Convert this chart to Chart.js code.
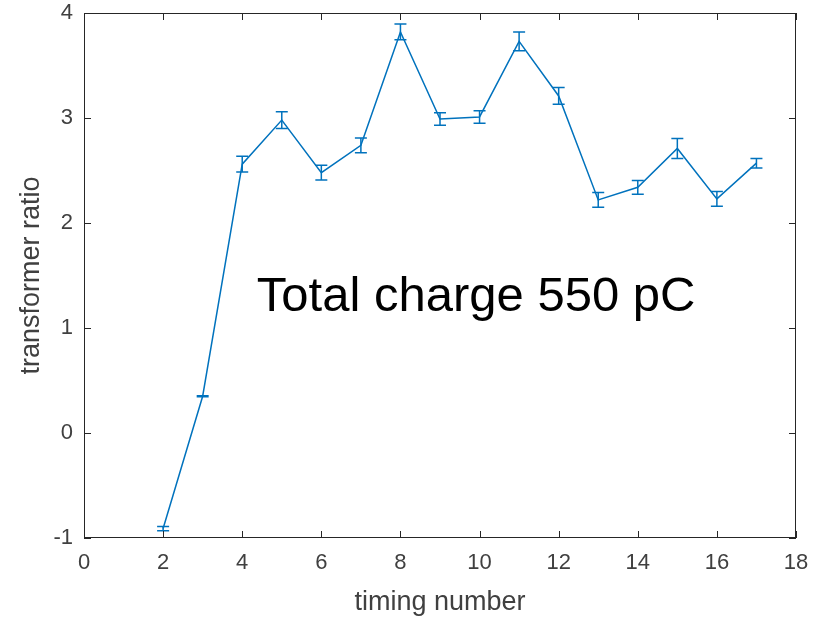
<!DOCTYPE html>
<html>
<head>
<meta charset="utf-8">
<title>transformer ratio</title>
<script src="https://cdn.jsdelivr.net/npm/chart.js@4/dist/chart.umd.min.js"></script>
<style>
  html, body { margin: 0; padding: 0; background: #fff; }
  #wrap { width: 814px; height: 619px; }
</style>
</head>
<body>
<div id="wrap"><canvas id="ratioChart"></canvas></div>
<script>
// timing scan, total charge 550 pC
const timingNumber = [2, 3, 4, 5, 6, 7, 8, 9, 10, 11, 12, 13, 14, 15, 16, 17];
const ratioMean = [-0.91, 0.35, 2.56, 2.98, 2.48, 2.74, 3.82, 2.99, 3.01, 3.73, 3.21, 2.22, 2.34, 2.71, 2.23, 2.57];
const ratioErr = [0.02, 0.005, 0.075, 0.08, 0.07, 0.07, 0.075, 0.06, 0.06, 0.09, 0.08, 0.07, 0.065, 0.095, 0.07, 0.045];
const xTicks = [0, 2, 4, 6, 8, 10, 12, 14, 16, 18];
const yTicks = [-1, 0, 1, 2, 3, 4];

const lineBlue = '#0072BD';
const axisGray = '#262626';
const textGray = '#404040';
const fontFamily = '"Liberation Sans", Arial, sans-serif';
const noteText = 'Total charge 550 pC';

// box around the axes, inward ticks on all four sides, error bars and the note
const matlabAxes = {
  id: 'matlabAxes',
  afterDatasetsDraw(chart) {
    const { ctx, chartArea: a, scales: { x, y } } = chart;
    const tl = 7;
    ctx.save();

    // error bars
    ctx.strokeStyle = lineBlue;
    ctx.lineWidth = 1.5;
    timingNumber.forEach((t, i) => {
      const px = x.getPixelForValue(t);
      const top = y.getPixelForValue(ratioMean[i] + ratioErr[i]);
      const bot = y.getPixelForValue(ratioMean[i] - ratioErr[i]);
      ctx.beginPath();
      ctx.moveTo(px, top); ctx.lineTo(px, bot);
      ctx.moveTo(px - 6, top); ctx.lineTo(px + 6, top);
      ctx.moveTo(px - 6, bot); ctx.lineTo(px + 6, bot);
      ctx.stroke();
    });

    // frame
    ctx.strokeStyle = axisGray;
    ctx.lineWidth = 1;
    ctx.strokeRect(a.left + 0.5, a.top + 0.5, a.right - a.left - 1, a.bottom - a.top - 1);

    ctx.beginPath();
    xTicks.forEach(v => {
      const px = Math.round(x.getPixelForValue(v)) + 0.5;
      ctx.moveTo(px, a.bottom); ctx.lineTo(px, a.bottom - tl);
      ctx.moveTo(px, a.top); ctx.lineTo(px, a.top + tl);
    });
    yTicks.forEach(v => {
      const py = Math.round(y.getPixelForValue(v)) + 0.5;
      ctx.moveTo(a.left, py); ctx.lineTo(a.left + tl, py);
      ctx.moveTo(a.right, py); ctx.lineTo(a.right - tl, py);
    });
    ctx.stroke();

    // note inside the axes
    ctx.fillStyle = '#000';
    ctx.font = '49px ' + fontFamily;
    ctx.textAlign = 'left';
    ctx.textBaseline = 'alphabetic';
    ctx.fillText(noteText, x.getPixelForValue(4.37), y.getPixelForValue(1.16));
    ctx.restore();
  }
};

new Chart(document.getElementById('ratioChart'), {
  type: 'line',
  data: {
    datasets: [{
      data: timingNumber.map((t, i) => ({ x: t, y: ratioMean[i] })),
      borderColor: lineBlue,
      borderWidth: 1.5,
      pointRadius: 0,
      tension: 0,
      fill: false
    }]
  },
  options: {
    responsive: true,
    maintainAspectRatio: false,
    animation: false,
    layout: { padding: { top: 13, right: 18, left: 0, bottom: 0 } },
    plugins: { legend: { display: false }, tooltip: { enabled: false } },
    scales: {
      x: {
        type: 'linear',
        min: 0, max: 18,
        afterBuildTicks: s => { s.ticks = xTicks.map(v => ({ value: v })); },
        afterFit: s => { s.height = 81; s.paddingLeft = 0; s.paddingRight = 0; },
        grid: { display: false, drawTicks: false },
        border: { display: false },
        ticks: { color: textGray, padding: 12, maxRotation: 0, font: { family: fontFamily, size: 22 } },
        title: { display: true, text: 'timing number', color: textGray, padding: { top: 0, bottom: 0 }, font: { family: fontFamily, size: 27 } }
      },
      y: {
        type: 'linear',
        min: -1, max: 4,
        afterBuildTicks: s => { s.ticks = yTicks.map(v => ({ value: v })); },
        afterFit: s => { s.width = 84; s.paddingTop = 0; s.paddingBottom = 0; },
        grid: { display: false, drawTicks: false },
        border: { display: false },
        ticks: { color: textGray, padding: 11, font: { family: fontFamily, size: 22 } },
        title: { display: true, text: 'transformer ratio', color: textGray, padding: { top: 15, bottom: 0 }, font: { family: fontFamily, size: 27 } }
      }
    }
  },
  plugins: [matlabAxes]
});
</script>
</body>
</html>
